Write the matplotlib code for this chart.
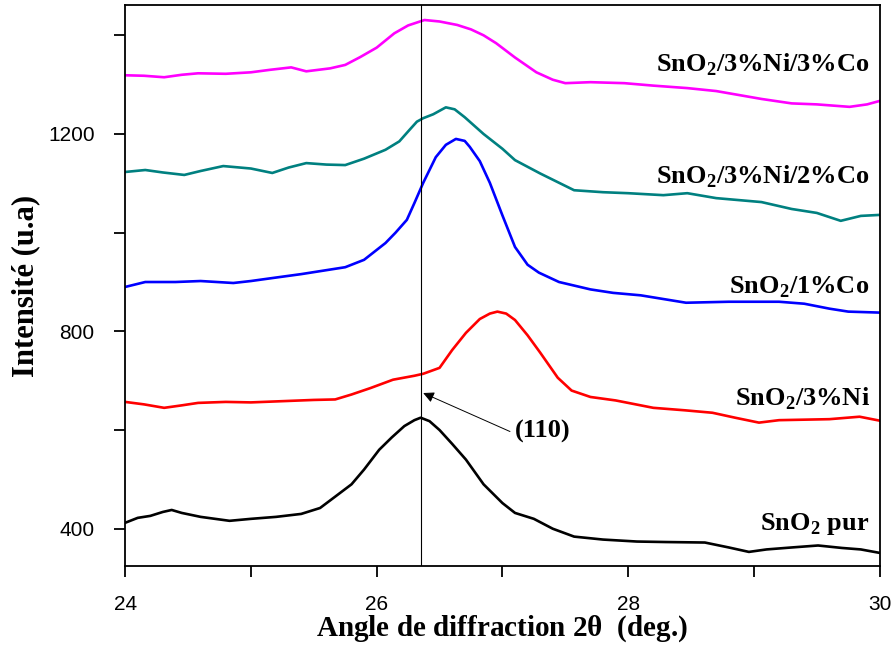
import matplotlib
matplotlib.use("Agg")
import matplotlib.pyplot as plt
from matplotlib.ticker import MultipleLocator

# Données (2theta en degrés, intensité en u.a)
x_pur = [24.0, 24.1, 24.2, 24.3, 24.37, 24.45, 24.6, 24.83, 25.0, 25.2, 25.4, 25.55, 25.67, 25.8, 25.9,
         26.02, 26.12, 26.22, 26.3, 26.35, 26.42, 26.5, 26.6, 26.71, 26.85, 27.0, 27.1, 27.25, 27.4,
         27.57, 27.8, 28.07, 28.3, 28.61, 28.8, 28.96, 29.1, 29.3, 29.51, 29.7, 29.85, 30.0]
y_pur = [412, 422, 426, 434, 438, 432, 424, 416, 420, 424, 430, 442, 465, 490, 520,
         560, 585, 608, 620, 625, 618, 600, 572, 540, 490, 452, 432, 420, 400,
         384, 378, 374, 373, 372, 362, 353, 358, 362, 366, 361, 358, 351]

x_ni = [24.0, 24.15, 24.31, 24.45, 24.58, 24.8, 25.0, 25.3, 25.5, 25.67, 25.8, 25.95, 26.13, 26.3, 26.37,
        26.5, 26.6, 26.71, 26.82, 26.9, 26.96, 27.03, 27.1, 27.2, 27.3, 27.44, 27.55, 27.7, 27.9,
        28.2, 28.45, 28.67, 28.85, 29.04, 29.2, 29.4, 29.6, 29.84, 30.0]
y_ni = [657, 652, 645, 650, 655, 657, 656, 659, 661, 662, 672, 685, 702, 710, 714,
        726, 762, 797, 825, 836, 840, 836, 823, 792, 757, 706, 680, 667, 660,
        645, 640, 635, 625, 615, 620, 621, 622, 627, 619]

x_co = [24.0, 24.16, 24.4, 24.6, 24.86, 25.0, 25.17, 25.4, 25.6, 25.75, 25.9, 26.0, 26.07, 26.15,
        26.24, 26.3, 26.37, 26.47, 26.55, 26.63, 26.7, 26.74, 26.82, 26.9, 27.0, 27.1, 27.2, 27.29,
        27.45, 27.7, 27.88, 28.1, 28.46, 28.8, 29.2, 29.4, 29.6, 29.75, 30.0]
y_co = [890, 900, 900, 902, 898, 902, 908, 916, 924, 930, 945, 965, 979, 1000,
        1026, 1060, 1101, 1153, 1178, 1190, 1186, 1174, 1145, 1101, 1035, 971, 935, 919,
        900, 885, 878, 873, 858, 860, 860, 856, 846, 840, 838]

x_ni2co = [24.0, 24.16, 24.3, 24.47, 24.6, 24.78, 25.0, 25.17, 25.3, 25.44, 25.6, 25.75, 25.9, 26.07,
           26.18, 26.26, 26.32, 26.37, 26.45, 26.55, 26.62, 26.7, 26.85, 27.0, 27.1, 27.3, 27.57,
           27.8, 28.0, 28.28, 28.47, 28.7, 29.06, 29.3, 29.5, 29.69, 29.85, 30.0]
y_ni2co = [1123, 1127, 1122, 1117, 1125, 1135, 1130, 1121, 1132, 1141, 1138, 1137, 1150, 1168,
           1185, 1208, 1225, 1232, 1240, 1254, 1250, 1234, 1200, 1170, 1147, 1120, 1086,
           1082, 1080, 1076, 1080, 1070, 1062, 1048, 1040, 1024, 1034, 1036]

x_ni3co = [24.0, 24.15, 24.31, 24.45, 24.58, 24.8, 25.0, 25.15, 25.32, 25.44, 25.63, 25.75, 25.87,
           26.0, 26.14, 26.25, 26.38, 26.5, 26.64, 26.75, 26.85, 26.95, 27.1, 27.27, 27.4, 27.5,
           27.7, 27.97, 28.2, 28.47, 28.7, 29.06, 29.3, 29.5, 29.76, 29.9, 30.0]
y_ni3co = [1319, 1318, 1315, 1320, 1323, 1322, 1325, 1330, 1335, 1327, 1333, 1340, 1356,
           1375, 1404, 1420, 1431, 1428, 1421, 1412, 1400, 1384, 1355, 1325, 1310, 1303,
           1305, 1303, 1298, 1293, 1287, 1271, 1262, 1260, 1255, 1260, 1267]

# noms des échantillons et position verticale des étiquettes
noms = ["SnO$_\\mathbf{2}$ pur", "SnO$_\\mathbf{2}$/3%Ni", "SnO$_\\mathbf{2}$/1%Co",
        "SnO$_\\mathbf{2}$/3%Ni/2%Co", "SnO$_\\mathbf{2}$/3%Ni/3%Co"]
y_noms = [414, 667, 894, 1117, 1344]

courbes = [(x_pur, y_pur), (x_ni, y_ni), (x_co, y_co), (x_ni2co, y_ni2co), (x_ni3co, y_ni3co)]
couleurs = ["black", "#ff0000", "#0000ff", "#008080", "#ff00ff"]

plt.rcParams['mathtext.fontset'] = 'custom'
plt.rcParams['mathtext.rm'] = 'Liberation Serif:bold'
plt.rcParams['mathtext.bf'] = 'Liberation Serif:bold'

fig = plt.figure(figsize=(8.94, 6.51), dpi=100)
ax = fig.add_axes([0.14, 0.131, 0.844, 0.861])

for (xs, ys), col, nom, yn in zip(courbes, couleurs, noms, y_noms):
    ax.plot(xs, ys, color=col, lw=1.9)
    # baseline un peu sous le centre des majuscules
    ax.text(29.92, yn - 17, nom, ha="right", va="baseline", fontsize=19,
            family="Liberation Serif", fontweight="bold")

# pic (110)
ax.axvline(26.35, color="black", lw=0.8)
ax.annotate("", xy=(26.37, 675), xytext=(27.06, 597),
            arrowprops=dict(arrowstyle="-|>", color="black", lw=0.7,
                            shrinkA=0, shrinkB=0, mutation_scale=16))
ax.text(27.32, 597, "(110)", fontsize=19, family="Liberation Serif",
        fontweight="bold", ha="center", va="center")

ax.set_xlim(24, 30)
ax.set_ylim(325, 1461)
ax.xaxis.set_major_locator(MultipleLocator(2))
ax.xaxis.set_minor_locator(MultipleLocator(1))
ax.yaxis.set_major_locator(MultipleLocator(400))
ax.yaxis.set_minor_locator(MultipleLocator(200))
ax.tick_params(which="both", direction="out", length=8, width=1.3, labelsize=15)
ax.tick_params(axis="x", pad=13)
ax.tick_params(axis="y", pad=14)
for lab in ax.get_xticklabels() + ax.get_yticklabels():
    lab.set_family("Liberation Sans")
for sp in ax.spines.values():
    sp.set_linewidth(1.3)

ax.set_xlabel("Angle de diffraction 2$\\mathregular{\\theta}$  (deg.)", fontsize=21,
              family="Liberation Serif", fontweight="bold")
ax.set_ylabel("Intensité (u.a)", fontsize=22, family="Liberation Serif",
              fontweight="bold")
ax.xaxis.set_label_coords(0.5, -0.085)
ax.yaxis.set_label_coords(-0.112, 0.5)

fig.savefig("out.png", dpi=100)
